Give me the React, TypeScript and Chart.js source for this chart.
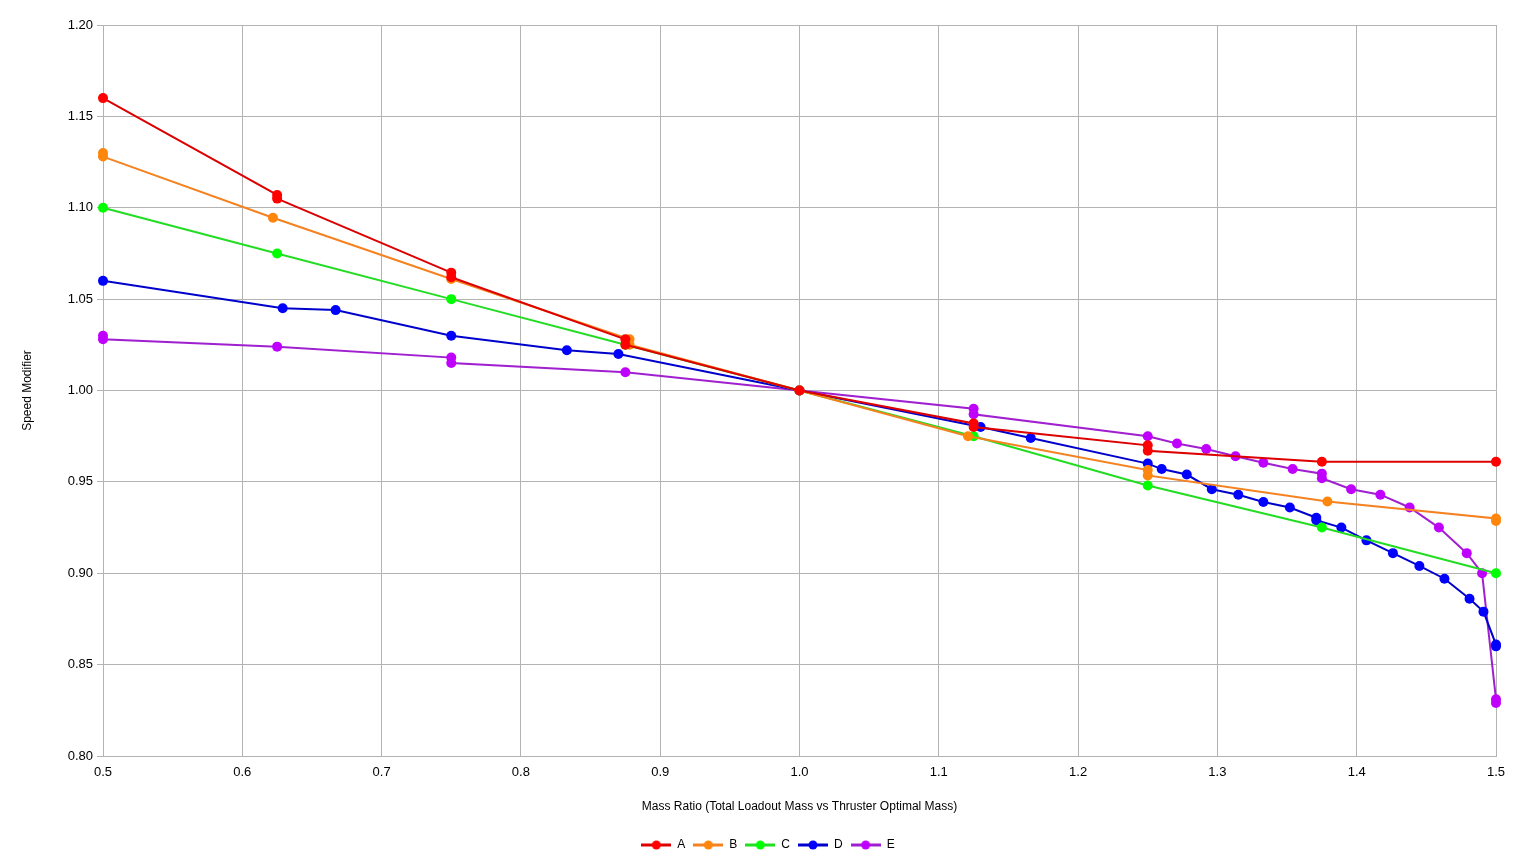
import { useEffect, useRef } from "react";
import { Chart, registerables } from "chart.js";

Chart.register(...registerables);

// valores
const seriesNames = ["A", "B", "C", "D", "E"];

const massA = [0.5, 0.625, 0.625, 0.75, 0.75, 0.875, 0.875, 1.0, 1.125, 1.125, 1.25, 1.25, 1.375, 1.5];
const speedA = [1.16, 1.107, 1.105, 1.0645, 1.062, 1.028, 1.025, 1.0, 0.982, 0.98, 0.97, 0.967, 0.961, 0.961];

const massB = [0.5, 0.5, 0.622, 0.75, 0.878, 0.878, 1.0, 1.121, 1.25, 1.25, 1.379, 1.5, 1.5];
const speedB = [1.13, 1.128, 1.0945, 1.061, 1.028, 1.025, 1.0, 0.975, 0.9565, 0.9535, 0.9393, 0.930, 0.9286];

const massC = [0.5, 0.625, 0.75, 0.875, 1.0, 1.125, 1.25, 1.375, 1.5];
const speedC = [1.1, 1.075, 1.05, 1.025, 1.0, 0.975, 0.948, 0.925, 0.9];

const massD = [
  0.5, 0.629, 0.667, 0.75, 0.833, 0.87, 1.0, 1.13, 1.166, 1.25, 1.26, 1.278, 1.296,
  1.315, 1.333, 1.352, 1.371, 1.371, 1.389, 1.407, 1.426, 1.445, 1.463, 1.481, 1.491, 1.5, 1.5,
];
const speedD = [
  1.06, 1.045, 1.044, 1.03, 1.022, 1.02, 1.0, 0.98, 0.974, 0.96, 0.957, 0.954, 0.946,
  0.943, 0.939, 0.936, 0.9304, 0.929, 0.925, 0.918, 0.911, 0.904, 0.897, 0.886, 0.879, 0.861, 0.86,
];

const massE = [
  0.5, 0.5, 0.625, 0.75, 0.75, 0.875, 1.0, 1.125, 1.125, 1.25, 1.271, 1.292, 1.313,
  1.333, 1.354, 1.375, 1.375, 1.396, 1.417, 1.438, 1.459, 1.479, 1.49, 1.5, 1.5,
];
const speedE = [
  1.03, 1.028, 1.024, 1.018, 1.015, 1.01, 1.0, 0.99, 0.987, 0.975, 0.971, 0.968, 0.964,
  0.9605, 0.957, 0.9545, 0.952, 0.946, 0.943, 0.936, 0.925, 0.911, 0.9, 0.831, 0.829,
];

const lineColors = ["#dd0000", "#f58220", "#22dd22", "#0000cc", "#a020d0"];
const pointColors = ["#ff0000", "#ff860d", "#00ff00", "#0000ff", "#c000ff"];

const masses = [massA, massB, massC, massD, massE];
const speeds = [speedA, speedB, speedC, speedD, speedE];

const fontFamily = "'Liberation Sans', Arial, sans-serif";

// símbolo de leyenda: línea con punto en el centro
function legendSymbol(line: string, point: string) {
  const c = document.createElement("canvas");
  c.width = 30;
  c.height = 12;
  const g = c.getContext("2d")!;
  g.strokeStyle = line;
  g.lineWidth = 3;
  g.beginPath();
  g.moveTo(0, 6);
  g.lineTo(30, 6);
  g.stroke();
  g.fillStyle = point;
  g.beginPath();
  g.arc(15, 6, 4.5, 0, Math.PI * 2);
  g.fill();
  return c;
}

export default function App() {
  const canvasRef = useRef<HTMLCanvasElement>(null);

  useEffect(() => {
    document.body.style.margin = "0";
    if (!canvasRef.current) return;

    const datasets = seriesNames.map((name, i) => ({
      label: name,
      data: masses[i].map((m, j) => ({ x: m, y: speeds[i][j] })),
      borderColor: lineColors[i],
      backgroundColor: pointColors[i],
      pointBackgroundColor: pointColors[i],
      pointBorderColor: pointColors[i],
      pointRadius: 5,
      pointBorderWidth: 0,
      borderWidth: 2,
      tension: 0,
      clip: false as const,
    }));

    const chart = new Chart(canvasRef.current, {
      type: "line",
      data: { datasets },
      options: {
        responsive: true,
        maintainAspectRatio: false,
        animation: false,
        devicePixelRatio: 1,
        layout: { padding: { left: 0, right: 0, top: 25, bottom: 3 } },
        plugins: {
          tooltip: { enabled: false },
          legend: {
            position: "bottom",
            labels: {
              usePointStyle: true,
              pointStyleWidth: 30,
              padding: 8,
              color: "#000",
              font: { family: fontFamily, size: 12 },
              generateLabels: () =>
                seriesNames.map((name, i) => ({
                  text: name,
                  datasetIndex: i,
                  pointStyle: legendSymbol(lineColors[i], pointColors[i]),
                  fillStyle: pointColors[i],
                  strokeStyle: lineColors[i],
                  lineWidth: 0,
                  hidden: false,
                })),
            },
          },
        },
        scales: {
          x: {
            type: "linear",
            min: 0.5,
            max: 1.5,
            afterFit: (scale: any) => {
              scale.height = 75;
            },
            ticks: {
              stepSize: 0.1,
              padding: 9,
              color: "#000",
              font: { family: fontFamily, size: 13 },
              callback: (v: any) => Number(v).toFixed(1),
            },
            grid: { color: "#b3b3b3", drawTicks: false },
            border: { color: "#b3b3b3" },
            title: {
              display: true,
              text: "Mass Ratio (Total Loadout Mass vs Thruster Optimal Mass)",
              color: "#000",
              font: { family: fontFamily, size: 12 },
              padding: { top: 0, bottom: 17 },
            },
          },
          y: {
            min: 0.8,
            max: 1.2,
            afterFit: (scale: any) => {
              scale.width = 103;
            },
            ticks: {
              stepSize: 0.05,
              padding: 4,
              color: "#000",
              font: { family: fontFamily, size: 13 },
              callback: (v: any) => Number(v).toFixed(2),
            },
            grid: { color: "#b3b3b3", tickLength: 6 },
            border: { color: "#b3b3b3" },
            title: {
              display: true,
              text: "Speed Modifier",
              color: "#000",
              font: { family: fontFamily, size: 12 },
              padding: { top: 20, bottom: 0 },
            },
          },
          // eje vacío a la derecha, solo para dejar el margen sin descentrar la leyenda
          margen: {
            type: "linear",
            position: "right",
            afterFit: (scale: any) => {
              scale.width = 40;
            },
            ticks: { display: false },
            grid: { display: false },
            border: { display: false },
          },
        },
      },
    });

    return () => {
      chart.destroy();
    };
  }, []);

  return (
    <div style={{ position: "fixed", left: 0, top: 0, width: 1536, height: 864, background: "#fff" }}>
      <canvas ref={canvasRef} />
    </div>
  );
}
